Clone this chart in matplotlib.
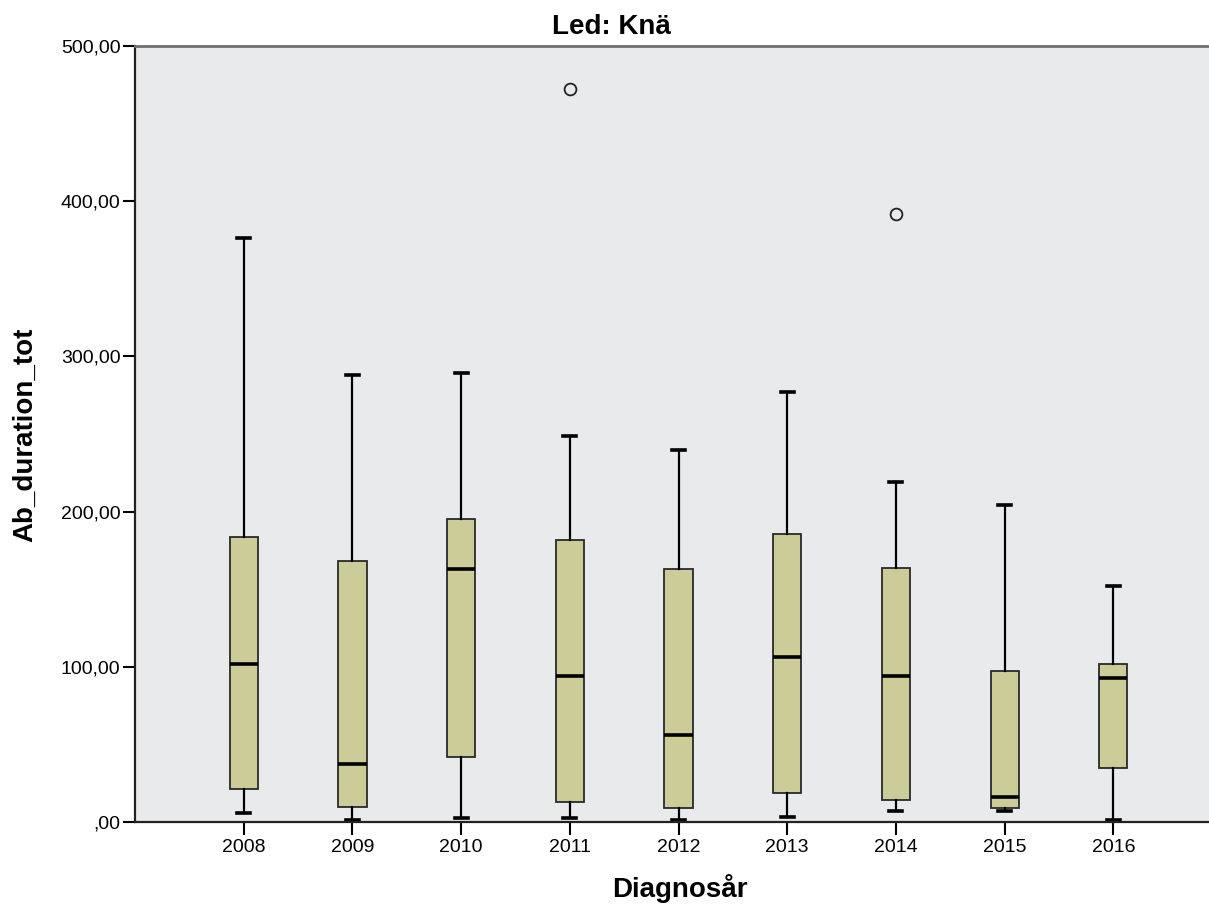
import matplotlib.pyplot as plt
from matplotlib.ticker import FuncFormatter

# Box statistics (Ab_duration_tot per diagnosis year)
years = ["2008", "2009", "2010", "2011", "2012", "2013", "2014", "2015", "2016"]
whislo = [5.6, 1.0, 2.4, 2.4, 1.0, 3.4, 7.0, 7.1, 1.0]
q1 = [21.0, 9.9, 42.0, 13.0, 8.8, 18.5, 14.2, 8.8, 34.5]
med = [101.8, 37.4, 162.8, 94.0, 56.0, 106.5, 94.0, 16.3, 92.5]
q3 = [183.8, 168.0, 195.0, 181.6, 162.8, 185.5, 163.4, 97.3, 101.5]
whishi = [376.0, 288.0, 289.0, 249.0, 240.0, 277.0, 219.0, 204.0, 152.0]
fliers = [[], [], [], [472.0], [], [], [392.0], [], []]

FONT = ["Liberation Sans", "DejaVu Sans"]

px = 1 / 100
fig = plt.figure(figsize=(1209 * px, 905 * px), dpi=100)
ax = fig.add_axes([135 / 1209, 83 / 905, 1 - 135 / 1209, 776 / 905])
ax.set_facecolor("#e9eaec")

stats = []
for i, y in enumerate(years):
    stats.append(dict(label=y, whislo=whislo[i], q1=q1[i], med=med[i],
                      q3=q3[i], whishi=whishi[i], fliers=fliers[i]))

ax.bxp(stats, positions=range(1, len(years) + 1), widths=0.26, capwidths=0.12,
       patch_artist=True,
       boxprops=dict(facecolor="#cccc99", edgecolor="#2a2a2a", linewidth=1.3),
       medianprops=dict(color="black", linewidth=2.6),
       whiskerprops=dict(color="black", linewidth=1.6),
       capprops=dict(color="black", linewidth=2.6),
       flierprops=dict(marker="o", markerfacecolor="none", markeredgecolor="#222222",
                       markersize=8.5, markeredgewidth=1.3))

ax.set_xlim(0, 9.88)
ax.set_ylim(0, 500)
ax.set_yticks([0, 100, 200, 300, 400, 500])
ax.yaxis.set_major_formatter(FuncFormatter(
    lambda v, p: ",00" if v == 0 else f"{int(v)},00"))

ax.tick_params(axis="both", direction="out", length=9, width=1.5,
               labelsize=14, colors="black", pad=1.5)
ax.tick_params(axis="x", pad=3)

ax.spines["right"].set_visible(False)
ax.spines["top"].set_color("#707070")
ax.spines["top"].set_linewidth(2)
for s in ["left", "bottom"]:
    ax.spines[s].set_linewidth(1.6)
    ax.spines[s].set_color("#222222")

fig.text(611 / 1209, 1 - 27 / 905, "Led: Knä", ha="center", va="center",
         fontsize=20, fontweight="bold", family=FONT)
fig.text(25 / 1209, 1 - 435 / 905, "Ab_duration_tot", ha="center", va="center",
         rotation=90, fontsize=20, fontweight="bold", family=FONT)
fig.text(680 / 1209, 1 - 888 / 905, "Diagnosår", ha="center", va="center",
         fontsize=20, fontweight="bold", family=FONT)

for lab in ax.get_xticklabels() + ax.get_yticklabels():
    lab.set_family(FONT)

fig.savefig("out.png", dpi=100)
